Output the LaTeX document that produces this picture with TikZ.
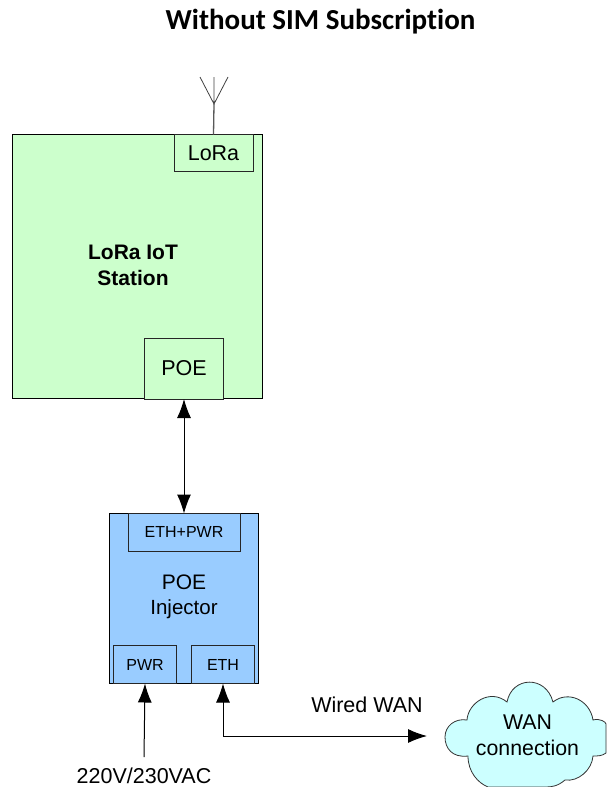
\documentclass[tikz,border=0pt]{standalone}
\usepackage{fontspec}
\setmainfont{Liberation Sans}
\newfontfamily\titlefont[Ligatures=NoCommon]{Carlito}
\usetikzlibrary{arrows.meta}
\definecolor{stationgreen}{HTML}{CCFFCC}
\definecolor{injblue}{HTML}{99CCFF}
\definecolor{cloudcyan}{HTML}{CCFFFF}
\tikzset{
  x=1pt,y=-1pt,
  outerbox/.style={draw=black,line width=1pt,inner sep=0pt,outer sep=0pt},
  portbox/.style={draw=black!85,line width=1pt,inner sep=0pt,outer sep=0pt,font=\fontsize{21.5}{24}\selectfont},
  smallport/.style={portbox,font=\fontsize{16}{19}\selectfont},
  label/.style={inner sep=0pt,align=center},
  link/.style={line width=1pt,black,{Latex[length=19pt,width=14pt]}-{Latex[length=19pt,width=14pt]}},
  feed/.style={line width=1pt,black,-{Latex[length=19pt,width=14pt]}}
}
\begin{document}
\begin{tikzpicture}
\useasboundingbox (0,0) rectangle (606,787);
\node[label,font=\titlefont\bfseries\fontsize{29}{34}\selectfont] (title) at (320.5,22) {Without SIM Subscription};

% LoRa station
\node[outerbox,fill=stationgreen,minimum width=250pt,minimum height=264pt] (station) at (137,266.5) {};
\node[portbox,fill=stationgreen,minimum width=79pt,minimum height=37pt] (lora) at (213.5,153) {LoRa};
\node[portbox,fill=stationgreen,minimum width=79pt,minimum height=61pt] (poe) at (184,368.5) {POE};
\node[label,font=\bfseries\fontsize{21}{26}\selectfont] (stationlabel) at (133,265) {LoRa IoT\\Station};

% Antenna
\coordinate (anttip) at (214,104);
\coordinate (antl) at (200,77);
\coordinate (antr) at (228,77);
\coordinate (antm) at (214,77);
\draw[black!65,line width=1.3pt] (lora.north) -- (anttip);
\draw[black!75,line width=0.8pt] (antl) -- (anttip) -- (antr) (antm) -- (anttip);

% POE injector
\node[outerbox,fill=injblue,minimum width=149pt,minimum height=170pt] (inj) at (184,598.5) {};
\node[smallport,fill=injblue,minimum width=112pt,minimum height=38pt] (ethpwr) at (184,532) {ETH+PWR};
\node[smallport,fill=injblue,minimum width=63pt,minimum height=38pt] (pwr) at (145,664.5) {PWR};
\node[smallport,fill=injblue,minimum width=63pt,minimum height=38pt] (eth) at (223,664.5) {ETH};
\node[label,font=\fontsize{21}{26}\selectfont] (injlabel) at (184,597) {POE\\[-1pt]{\fontsize{20.5}{24}\selectfont Injector}};

% Cloud
\draw[fill=cloudcyan,draw=black!80,line width=0.8pt]
  (467,720) .. controls (468,703) and (490,688) .. (507,702)
  .. controls (512,676) and (546,675) .. (553,702)
  .. controls (568,690) and (590,700) .. (593,720)
  .. controls (600,718) and (606,722) .. (606,724)
  -- (606,753)
  .. controls (602,756) and (598,756) .. (593,756)
  .. controls (592,770) and (578,782) .. (565,780)
  .. controls (558,786) and (552,787) .. (546,787)
  -- (488,787)
  .. controls (478,783) and (468,772) .. (468,756)
  .. controls (452,758) and (445,748) .. (445,737)
  .. controls (445,726) and (455,718) .. (467,720) -- cycle;
\node[label,font=\fontsize{21.3}{26}\selectfont] (cloud) at (527.5,735) {WAN\\connection};

% Connectors
\coordinate (acin) at (144,757);
\coordinate (wanend) at (427,736);
\coordinate (wanbend) at (223,736);
\draw[link] (poe.south) -- (inj.north);
\draw[feed] (acin) -- (pwr.south);
\draw[feed] (wanbend) -- (eth.south);
\draw[feed] (wanbend) -- (wanend);

\node[label,font=\fontsize{21.5}{25}\selectfont] (wired) at (367,705) {Wired WAN};
\node[label,font=\fontsize{21.5}{25}\selectfont] (ac) at (144,776) {220V/230VAC};
\end{tikzpicture}
\end{document}
